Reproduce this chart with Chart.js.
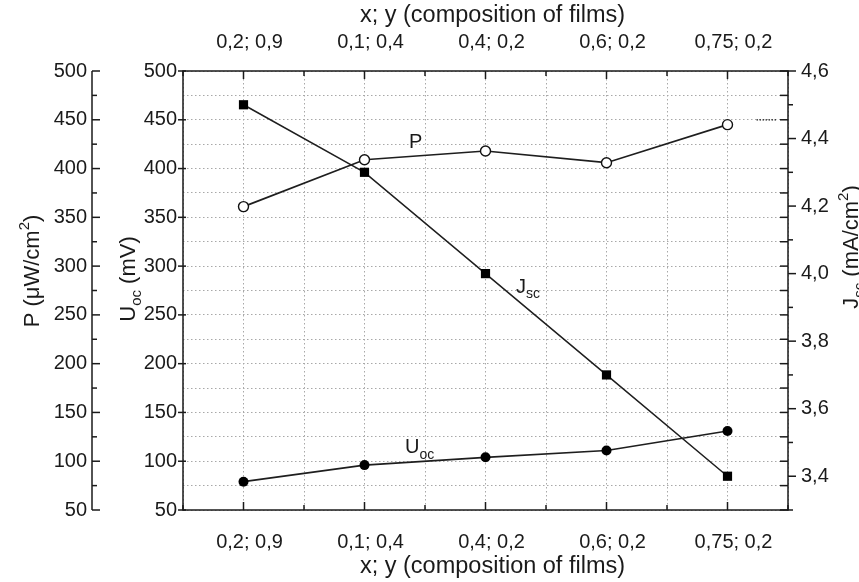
<!DOCTYPE html>
<html>
<head>
<meta charset="utf-8">
<script src="https://cdn.jsdelivr.net/npm/chart.js@4.4.0/dist/chart.umd.min.js"></script>
<style>
html,body{margin:0;padding:0;background:#fff;}
#wrap{width:859px;height:582px;}
</style>
</head>
<body>
<div id="wrap"><canvas id="c" width="859" height="582"></canvas></div>
<script>
// ---- data ----
const compositions = ['0,2; 0,9', '0,1; 0,4', '0,4; 0,2', '0,6; 0,2', '0,75; 0,2'];
const positions = [0, 1, 2, 3, 4];
const powerP = [361, 409, 418, 406, 445];        // P (µW/cm²)
const voltageUoc = [79, 96, 104, 111, 131];      // Uoc (mV)
const currentJsc = [4.5, 4.3, 4.0, 3.7, 3.4];    // Jsc (mA/cm²)
const leftAxisRange = [50, 500];
const rightAxisRange = [3.3, 4.6];
const xAxisTitle = 'x; y (composition of films)';

const FONT = '"Liberation Sans", Arial, sans-serif';
const INK = '#1a1a1a';

function pts(vals) { return positions.map((x, i) => ({ x: x, y: vals[i] })); }
const fmtComma = v => v.toFixed(1).replace('.', ',');

function richDraw(ctx, parts, x, y, size, rot, align) {
  ctx.save();
  ctx.translate(x, y);
  if (rot) ctx.rotate(rot);
  const fontOf = p => (p.k ? Math.round(size * 0.7) : size) + 'px ' + FONT;
  let total = 0;
  parts.forEach(p => { ctx.font = fontOf(p); total += ctx.measureText(p.t).width; });
  let cx = align === 'center' ? -total / 2 : 0;
  ctx.textBaseline = 'alphabetic';
  ctx.textAlign = 'left';
  ctx.fillStyle = INK;
  parts.forEach(p => {
    ctx.font = fontOf(p);
    const dy = p.k === 'sub' ? size * 0.28 : (p.k === 'sup' ? -size * 0.45 : 0);
    ctx.fillText(p.t, cx, dy);
    cx += ctx.measureText(p.t).width;
  });
  ctx.restore();
}

const deco = {
  id: 'deco',
  afterDraw(chart) {
    const { ctx, chartArea: a, scales } = chart;
    const xs = scales.x, yU = scales.y, yP = scales.yP, yJ = scales.yJ;
    ctx.save();
    ctx.strokeStyle = INK;
    ctx.lineWidth = 1.5;
    const seg = (x1, y1, x2, y2) => { ctx.beginPath(); ctx.moveTo(x1, y1); ctx.lineTo(x2, y2); ctx.stroke(); };

    // frame
    ctx.strokeRect(a.left, a.top, a.right - a.left, a.bottom - a.top);

    // outer P axis
    const px = yP.right;
    seg(px, yP.getPixelForValue(leftAxisRange[1]), px, yP.getPixelForValue(leftAxisRange[0]));
    yP.ticks.forEach(t => {
      const y = yP.getPixelForValue(t.value);
      const major = t.value % 50 === 0;
      seg(px, y, px + (major ? 8 : 5), y);
    });

    // inner Uoc axis ticks (outward) and mirrored ticks on right frame (inward)
    yU.ticks.forEach(t => {
      const y = yU.getPixelForValue(t.value);
      const major = t.value % 50 === 0;
      if (major) seg(a.left - 5, y, a.left + 3, y);
      seg(a.right - 8, y, a.right, y);
    });

    // right Jsc axis ticks (outward)
    yJ.ticks.forEach(t => {
      const y = yJ.getPixelForValue(t.value);
      const major = Math.round(t.value * 10) % 2 === 0;
      seg(a.right, y, a.right + (major ? 8 : 5), y);
    });

    // top & bottom ticks (inward)
    xs.ticks.forEach(t => {
      const x = xs.getPixelForValue(t.value);
      const major = Number.isInteger(t.value);
      const L = major ? 8 : 5;
      seg(x, a.top, x, a.top + L);
      seg(x, a.bottom, x, a.bottom - L);
    });

    // short darker dotted stub at 450 on the right
    ctx.save();
    ctx.lineWidth = 1.2;
    ctx.setLineDash([1.5, 1.5]);
    const y450 = yU.getPixelForValue(450);
    seg(xs.getPixelForValue(4.24), y450, xs.getPixelForValue(4.41), y450);
    ctx.restore();

    // axis titles
    const cxMid = (a.left + a.right) / 2 + 7;
    richDraw(ctx, [{ t: xAxisTitle }], cxMid, 22, 23.5, 0, 'center');
    richDraw(ctx, [{ t: xAxisTitle }], cxMid, 573, 23.5, 0, 'center');
    richDraw(ctx, [{ t: 'P (\u03BCW/cm' }, { t: '2', k: 'sup' }, { t: ')' }], 39, 271, 22, -Math.PI / 2, 'center');
    richDraw(ctx, [{ t: 'U' }, { t: 'oc', k: 'sub' }, { t: ' (mV)' }], 135, 279, 22, -Math.PI / 2, 'center');
    richDraw(ctx, [{ t: 'J' }, { t: 'sc', k: 'sub' }, { t: ' (mA/cm' }, { t: '2', k: 'sup' }, { t: ')' }], 858, 247, 22, -Math.PI / 2, 'center');

    // series labels
    richDraw(ctx, [{ t: 'P' }], xs.getPixelForValue(1.368), yU.getPixelForValue(421), 20, 0, 'left');
    richDraw(ctx, [{ t: 'J' }, { t: 'sc', k: 'sub' }], xs.getPixelForValue(2.252), yJ.getPixelForValue(3.944), 20, 0, 'left');
    richDraw(ctx, [{ t: 'U' }, { t: 'oc', k: 'sub' }], xs.getPixelForValue(1.335), yU.getPixelForValue(108.4), 20, 0, 'left');
    ctx.restore();
  }
};

const tickFont = { family: FONT, size: 20 };
const gridStyle = { display: true, color: '#a8a8a8', lineWidth: 1, drawTicks: false };

new Chart(document.getElementById('c'), {
  type: 'line',
  data: {
    datasets: [
      {
        label: 'P', data: pts(powerP), yAxisID: 'yP',
        borderColor: '#1e1e1e', borderWidth: 1.7,
        pointStyle: 'circle', pointRadius: 5, pointBorderWidth: 1.4,
        pointBackgroundColor: '#fff', pointBorderColor: '#111'
      },
      {
        label: 'Jsc', data: pts(currentJsc), yAxisID: 'yJ',
        borderColor: '#1e1e1e', borderWidth: 1.5,
        pointStyle: 'rect', pointRadius: 6.5, pointBorderWidth: 0,
        pointBackgroundColor: '#000', pointBorderColor: '#000'
      },
      {
        label: 'Uoc', data: pts(voltageUoc), yAxisID: 'y',
        borderColor: '#1e1e1e', borderWidth: 1.7,
        pointStyle: 'circle', pointRadius: 5, pointBorderWidth: 0,
        pointBackgroundColor: '#000', pointBorderColor: '#000'
      }
    ]
  },
  options: {
    responsive: false,
    animation: false,
    devicePixelRatio: 1,
    layout: { padding: 0 },
    plugins: { legend: { display: false }, tooltip: { enabled: false } },
    scales: {
      x: {
        type: 'linear', position: 'bottom', min: -0.5, max: 4.5,
        ticks: {
          stepSize: 0.5, autoSkip: false, maxRotation: 0, minRotation: 0,
          padding: 20, labelOffset: 6, color: INK, font: tickFont,
          callback: v => Number.isInteger(v) ? compositions[v] : ''
        },
        grid: Object.assign({}, gridStyle),
        border: { display: false, dash: [1.5, 2.5] },
        afterFit: s => { s.height = 72; }
      },
      x2: {
        type: 'linear', position: 'top', min: -0.5, max: 4.5,
        ticks: {
          stepSize: 0.5, autoSkip: false, maxRotation: 0, minRotation: 0,
          padding: 17, labelOffset: 6, color: INK, font: tickFont,
          callback: v => Number.isInteger(v) ? compositions[v] : ''
        },
        grid: { display: false, drawTicks: false },
        border: { display: false },
        afterFit: s => { s.height = 71; }
      },
      y: {
        type: 'linear', position: 'left', weight: 0,
        min: leftAxisRange[0], max: leftAxisRange[1],
        ticks: {
          stepSize: 25, autoSkip: false, padding: 6, color: INK, font: tickFont,
          callback: v => v % 50 === 0 ? String(v) : ''
        },
        grid: Object.assign({}, gridStyle),
        border: { display: false, dash: [1.5, 2.5] },
        afterFit: s => { s.width = 91; }
      },
      yP: {
        type: 'linear', position: 'left', weight: 5,
        min: leftAxisRange[0], max: leftAxisRange[1],
        ticks: {
          stepSize: 25, autoSkip: false, padding: 5, color: INK, font: tickFont,
          callback: v => v % 50 === 0 ? String(v) : ''
        },
        grid: { display: false, drawTicks: false },
        border: { display: false },
        afterFit: s => { s.width = 92; }
      },
      yJ: {
        type: 'linear', position: 'right',
        min: rightAxisRange[0], max: rightAxisRange[1],
        ticks: {
          stepSize: 0.1, autoSkip: false, padding: 13, color: INK, font: tickFont,
          callback: v => (Math.round(v * 10) % 2 === 0) ? fmtComma(v) : ''
        },
        grid: { display: false, drawTicks: false },
        border: { display: false },
        afterFit: s => { s.width = 71; }
      }
    }
  },
  plugins: [deco]
});
</script>
</body>
</html>
